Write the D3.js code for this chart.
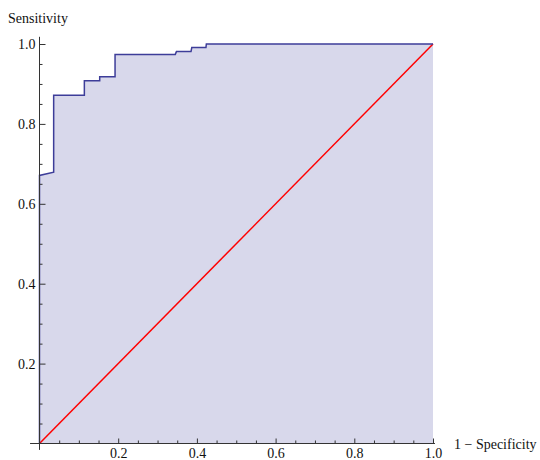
<!DOCTYPE html>
<html>
<head>
<meta charset="utf-8">
<script src="https://cdn.jsdelivr.net/npm/d3@7"></script>
<style>
  body { margin: 0; background: #fff; }
</style>
</head>
<body>
<script>
// ROC curve points
const fpr = [0, 0, 0.036, 0.036, 0.114, 0.114, 0.153, 0.153, 0.192, 0.192, 0.345, 0.348, 0.385, 0.387, 0.423, 0.424, 1.0];
const tpr = [0, 0.671, 0.679, 0.872, 0.872, 0.908, 0.908, 0.918, 0.918, 0.974, 0.974, 0.981, 0.981, 0.991, 0.991, 1.0, 1.0];
const diagX = [0, 1];
const diagY = [0, 1];
const majorTicks = [0.2, 0.4, 0.6, 0.8, 1.0];
const minorTicks = [0.05, 0.1, 0.15, 0.25, 0.3, 0.35, 0.45, 0.5, 0.55, 0.65, 0.7, 0.75, 0.85, 0.9, 0.95];
const xTitle = "1 \u2212 Specificity";
const yTitle = "Sensitivity";

const width = 540, height = 460;
const serif = "'Liberation Serif', 'Times New Roman', serif";

const svg = d3.select("body").append("svg")
    .attr("width", width)
    .attr("height", height);

const x = d3.scaleLinear().domain([0, 1]).range([39.5, 433]);
const y = d3.scaleLinear().domain([0, 1]).range([443.5, 44]);

const pts = fpr.map((d, i) => ({x: d, y: tpr[i]}));

// filled area under the curve
const area = d3.area()
    .x(d => x(d.x))
    .y0(y(0))
    .y1(d => y(d.y));

svg.append("path")
    .datum(pts)
    .attr("d", area)
    .attr("fill", "#d8d8eb");

// diagonal
svg.append("path")
    .datum(diagX.map((d, i) => ({x: d, y: diagY[i]})))
    .attr("d", d3.line().x(d => x(d.x)).y(d => y(d.y)))
    .attr("fill", "none")
    .attr("stroke", "#ff0000")
    .attr("stroke-width", 1.5);

// roc line
svg.append("path")
    .datum(pts)
    .attr("d", d3.line().x(d => x(d.x)).y(d => y(d.y)))
    .attr("fill", "none")
    .attr("stroke", "#3d3d99")
    .attr("stroke-width", 1.5);

// axes
const fmt = d3.format(".1f");

const xAxis = svg.append("g").attr("transform", "translate(0," + y(0) + ")");
xAxis.call(d3.axisBottom(x).tickValues(majorTicks).tickFormat(fmt).tickSize(-5).tickPadding(5));
xAxis.append("g").call(d3.axisBottom(x).tickValues(minorTicks).tickFormat("").tickSize(-3));

const yAxis = svg.append("g").attr("transform", "translate(" + x(0) + ",0)");
yAxis.call(d3.axisLeft(y).tickValues(majorTicks).tickFormat(fmt).tickSize(-6).tickPadding(4));
yAxis.append("g").call(d3.axisLeft(y).tickValues(minorTicks).tickFormat("").tickSize(-3));

svg.selectAll(".domain").remove();
svg.selectAll(".tick line").attr("stroke", "#333");
svg.selectAll(".tick text")
    .attr("font-family", serif)
    .attr("font-size", 14)
    .attr("fill", "#111");
xAxis.attr("font-family", serif).attr("font-size", 14);
yAxis.attr("font-family", serif).attr("font-size", 14);

// axis lines
svg.append("line")
    .attr("x1", x(-0.024)).attr("x2", x(1.005))
    .attr("y1", y(0)).attr("y2", y(0))
    .attr("stroke", "#333");
svg.append("line")
    .attr("x1", x(0)).attr("x2", x(0))
    .attr("y1", y(-0.016)).attr("y2", y(1.018))
    .attr("stroke", "#333");

// titles
svg.append("text")
    .attr("x", 8)
    .attr("y", 23)
    .attr("font-family", serif)
    .attr("font-size", 14)
    .attr("fill", "#111")
    .text(yTitle);

svg.append("text")
    .attr("x", 454)
    .attr("y", 449)
    .attr("font-family", serif)
    .attr("font-size", 14)
    .attr("fill", "#111")
    .text(xTitle);
</script>
</body>
</html>
